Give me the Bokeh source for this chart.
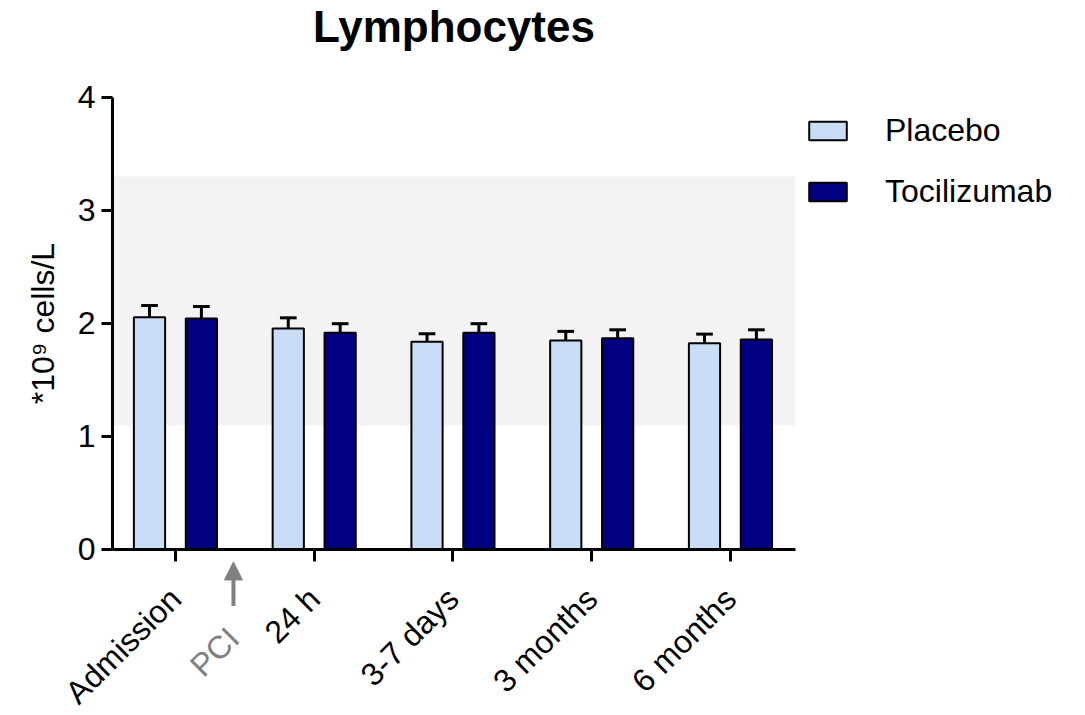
import math
from bokeh.plotting import figure
from bokeh.models import (Range1d, FixedTicker, BoxAnnotation, Legend, LegendItem,
                          Label, Arrow, NormalHead, ColumnDataSource)
from bokeh.embed import file_html
from bokeh.resources import INLINE

# Lymphocyte counts (mean, upper SEM) per time point
timepoints = ["Admission", "24 h", "3-7 days", "3 months", "6 months"]
placebo_mean = [2.056, 1.956, 1.838, 1.850, 1.826]
placebo_sem = [0.103, 0.094, 0.071, 0.080, 0.080]
toci_mean = [2.044, 1.918, 1.918, 1.870, 1.858]
toci_sem = [0.106, 0.080, 0.080, 0.074, 0.086]
y_ticks = [0, 1, 2, 3, 4]
ref_low, ref_high = 1.1, 3.3

FONT = "Liberation Sans"
PLACEBO_COLOR = "#C9DDF6"
TOCI_COLOR = "#000080"
PCI_COLOR = "#808080"

offset = 0.187
bar_w = 0.225
cap_w = 0.12

# Extent of the axes box in data units
X_LO, X_HI = -0.454, 4.468
Y_LO, Y_HI = 0, 4

idx = list(range(len(timepoints)))

# The frame covers the whole canvas; both axes are pinned to the corners of
# the data box so that their labels, the title and the legend sit around it.
p = figure(frame_width=1085, frame_height=715, output_backend="svg",
           toolbar_location=None,
           x_range=Range1d(-1.261, 6.559), y_range=Range1d(-1.469, 4.858),
           min_border=0)
p.outline_line_color = None
p.xgrid.visible = False
p.ygrid.visible = False
p.background_fill_color = "white"

# Reference range band
p.add_layout(BoxAnnotation(left=X_LO, right=X_HI, bottom=ref_low, top=ref_high,
                           fill_color="#f3f3f3", fill_alpha=1.0, line_color=None,
                           level="underlay"))


def draw_group(means, sems, shift, color):
    xs = [i + shift for i in idx]
    src = ColumnDataSource(dict(x=xs, top=means,
                                hi=[m + s for m, s in zip(means, sems)],
                                x0=[x - cap_w / 2 for x in xs],
                                x1=[x + cap_w / 2 for x in xs]))
    p.segment(x0="x", y0="top", x1="x", y1="hi", source=src,
              line_color="black", line_width=3)
    p.segment(x0="x0", y0="hi", x1="x1", y1="hi", source=src,
              line_color="black", line_width=3)
    return p.vbar(x="x", top="top", bottom=0, width=bar_w, source=src,
                  fill_color=color, line_color="black", line_width=2)


r_pl = draw_group(placebo_mean, placebo_sem, -offset, PLACEBO_COLOR)
r_tc = draw_group(toci_mean, toci_sem, offset, TOCI_COLOR)

# Axes
for ax in (p.xaxis[0], p.yaxis[0]):
    ax.axis_line_width = 3
    ax.major_tick_line_width = 3
    ax.major_tick_in = 0
    ax.minor_tick_line_color = None
    ax.major_label_text_font = FONT
    ax.major_label_text_font_size = "32px"
    ax.major_label_text_color = "black"

p.yaxis.fixed_location = X_LO
p.yaxis.ticker = FixedTicker(ticks=y_ticks)
p.yaxis.bounds = (Y_LO, Y_HI)
p.yaxis.major_tick_out = 11
p.yaxis.major_label_standoff = 6
p.yaxis.axis_label = "*10\u2079 cells/L"
p.yaxis.axis_label_text_font = FONT
p.yaxis.axis_label_text_font_size = "32px"
p.yaxis.axis_label_text_font_style = "normal"
p.yaxis.axis_label_text_color = "black"
p.yaxis.axis_label_standoff = 14

p.xaxis.fixed_location = Y_LO
p.xaxis.bounds = (X_LO, X_HI)
p.xaxis.ticker = FixedTicker(ticks=idx)
p.xaxis.major_label_overrides = {i: t for i, t in zip(idx, timepoints)}
p.xaxis.major_label_orientation = math.pi / 4
p.xaxis.major_tick_out = 12
p.xaxis.major_label_standoff = 32

# PCI marker between admission and 24 h
pci_x = 0.418
p.add_layout(Arrow(end=NormalHead(size=18, fill_color=PCI_COLOR, line_color=PCI_COLOR),
                   x_start=pci_x, y_start=-0.50, x_end=pci_x, y_end=-0.11,
                   line_color=PCI_COLOR, line_width=4))
p.add_layout(Label(x=pci_x, y=-0.74, text="PCI", angle=math.pi / 4,
                   text_align="right", text_baseline="middle",
                   text_font=FONT, text_font_size="32px", text_color=PCI_COLOR))

# Title, centred over the axes box
p.add_layout(Label(x=(X_LO + X_HI) / 2, y=4.628, text="Lymphocytes",
                   text_align="center", text_baseline="alphabetic",
                   text_font=FONT, text_font_size="44px", text_font_style="bold",
                   text_color="black"))

# Legend beside the axes box
legend = Legend(items=[LegendItem(label="Placebo", renderers=[r_pl]),
                       LegendItem(label="Tocilizumab", renderers=[r_tc])],
                location=(804, 505), glyph_width=47, glyph_height=23,
                label_text_font=FONT, label_text_font_size="32px",
                label_text_color="black",
                label_standoff=34, spacing=24, padding=0, margin=0,
                border_line_color=None, background_fill_alpha=0)
p.add_layout(legend, "center")

open("out.html", "w").write(file_html(p, INLINE))
